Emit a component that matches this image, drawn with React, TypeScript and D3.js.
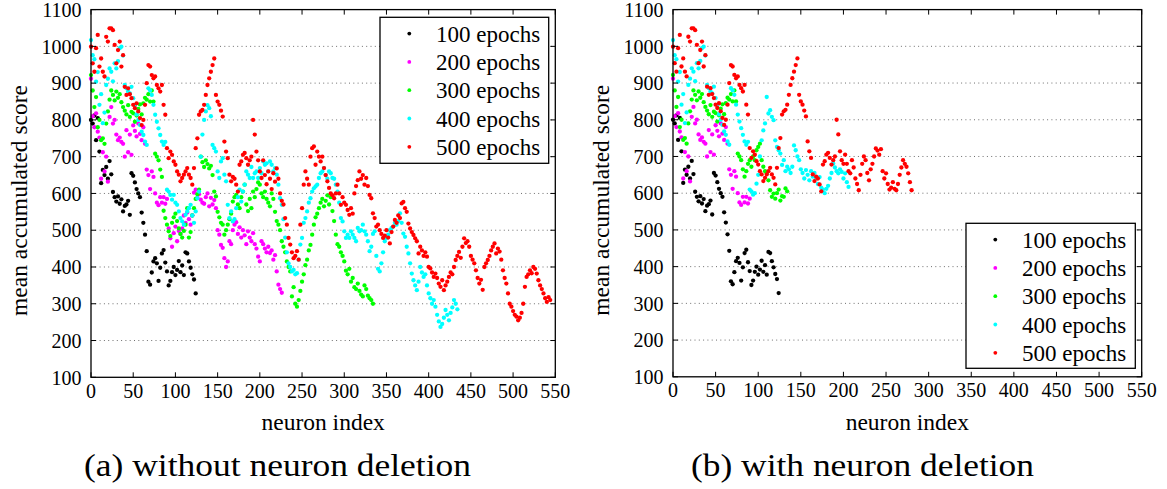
import React from "react";
import * as d3 from "d3";

// ---------- data (neuron index = 2 * position in array) ----------
const seriesNames = ["100 epochs", "200 epochs", "300 epochs", "400 epochs", "500 epochs"];
const seriesColors = ["#000000", "#ff00ff", "#00ff00", "#00ffff", "#ff0000"];
const xTickValues = [0, 50, 100, 150, 200, 250, 300, 350, 400, 450, 500, 550];
const yTickValues = [100, 200, 300, 400, 500, 600, 700, 800, 900, 1000, 1100];
const captions = ["(a) without neuron deletion", "(b) with neuron deletion"];

const black100 = [800,790,812,745,805,714,628,664,650,672,640,688,652,604,590,578,592,572,584,551,566,570,580,542,655,648,630,612,600,590,548,520,488,443,360,352,385,415,424,410,362,398,437,446,412,388,350,362,386,400,378,392,416,386,404,378,440,437,415,398,380,366,328];

const magenta200 = [912,810,780,818,768,752,640,712,660,700,
 632,808,835,790,800,760,745,752,740,735,
 700,772,712,760,705,785,770,755,790,762,
 745,780,735,665,650,612,660,645,600,575,
 568,590,575,590,572,585,505,478,455,492,
 510,470,498,490,505,540,520,548,530,515,
 540,602,610,588,598,583,575,572,590,600,
 565,588,570,582,560,500,488,460,452,424,
 400,415,470,462,500,515,522,490,508,480,
 500,486,462,497,480,470,492,462,450,428,
 415,470,462,450,440,455,438,445,420,432,
 388,352,340,330];

const green300 = [922,880,835,862,780,800,745,750,735,790,
 823,855,880,868,853,877,860,870,848,835,
 825,815,840,808,822,818,795,812,830,842,
 815,845,860,855,870,850,880,850,708,700,
 690,665,645,553,533,515,497,484,520,535,
 545,525,505,490,480,498,515,560,480,495,
 540,560,585,598,610,700,685,672,690,680,
 668,675,650,605,592,550,535,520,515,488,
 500,515,530,545,578,590,596,570,560,590,
 605,624,570,552,585,560,605,590,612,630,
 624,600,590,605,585,575,565,600,585,550,
 525,515,500,470,455,440,415,400,388,320,
 345,300,292,310,335,360,380,405,420,445,
 460,488,515,535,545,560,575,585,565,580,
 595,570,590,552,525,488,462,455,440,430,
 415,390,380,395,360,370,345,340,355,335,
 325,320,350,340,322,315,310,300];

const cyan400 = [1017,976,965,904,930,841,870,791,820,895,
 912,940,931,905,954,940,960,995,999,975,
 895,886,877,872,890,859,840,815,800,786,
 768,759,741,732,886,880,868,841,814,795,
 777,759,741,732,740,610,605,596,583,596,
 575,569,551,533,524,515,542,551,560,569,
 540,520,551,587,605,700,760,800,823,840,
 832,810,732,723,714,660,642,687,696,651,
 633,569,533,551,524,530,560,590,610,578,
 605,624,660,651,642,672,642,655,660,642,
 669,655,687,678,682,660,687,678,660,669,
 651,624,587,569,530,480,440,410,400,388,
 392,380,383,420,461,479,520,533,551,575,
 587,605,614,619,624,642,655,660,669,650,
 640,660,655,642,640,624,605,575,533,524,
 497,479,488,479,497,488,479,470,506,497,
 500,515,497,488,470,443,455,490,497,430,
 395,388,410,440,470,479,488,500,506,510,
 520,515,525,546,520,491,482,455,437,410,
 382,364,350,337,360,400,385,373,380,350,
 328,315,300,310,292,270,252,237,245,262,
 283,270,255,275,290,310,300,285];

const red500 = [999,954,931,995,1031,945,967,931,918,1026,
 1013,1049,1049,1044,1004,954,990,1013,945,976,
 890,868,886,870,859,841,832,845,823,805,
 786,800,841,900,949,945,922,913,918,895,
 886,877,895,841,814,723,696,714,705,687,
 678,660,651,633,642,651,660,669,651,642,
 624,669,723,750,814,823,827,841,868,895,
 913,931,949,967,868,850,841,825,809,741,
 714,696,651,633,645,640,624,605,678,687,
 705,710,696,678,690,700,800,760,714,690,
 660,642,690,650,625,660,640,612,655,632,
 668,640,600,580,570,533,515,479,461,440,
 424,430,443,420,515,560,624,660,640,624,
 700,723,728,678,714,700,687,700,669,650,
 633,615,600,595,587,600,624,600,569,590,
 575,569,555,542,560,545,600,620,636,660,
 640,650,624,642,620,596,587,546,533,510,
 515,500,490,479,485,500,480,464,495,510,
 528,520,540,533,573,577,560,550,518,505,
 495,487,478,470,437,455,445,430,440,428,
 400,396,385,373,382,370,355,346,364,337,
 350,360,373,385,380,400,419,430,441,425,
 455,478,465,470,455,430,420,410,391,370,
 355,365,338,400,410,419,430,445,455,464,
 437,450,442,420,391,370,355,328,300,292,
 280,270,265,255,262,275,300,346,373,380,
 391,383,400,395,382,364,350,340,328,315,
 305,318,310];

// with neuron deletion: shared beginnings, then own values
const green300DelTail = [645,660,680,690,672,700,690,717,726,735,690,672,660,654,635,608,590,599,585,600,610,580,592,590,613,605]; // from index 84
const cyan400DelTail = [600,626,650,700,744,771,790,862,817,826,808,799,744,726,717,708,677,690,660,672,665,655,672,730,717,700,690,665,655,640,663,650,635,660,645,655,640,625,644,615,610,600,612,620,640,655,681,670,660,654,665,658,640,654,630,617]; // from index 96
const red500DelTail = [714,690,680,705,680,660,654,690,670,640,625,608,650,680,700,690,655,635,665,680,700,722,716,705,720,660,640,654,625,610,615,630,612,608,625,650,670,690,680,672,654,630,608]; // from index 196

const leftSeries = [black100, magenta200, green300, cyan400, red500];
const rightSeries = [
  black100,
  magenta200.slice(0, 46),
  green300.slice(0, 42).concat(green300DelTail),
  cyan400.slice(0, 48).concat(cyan400DelTail),
  red500.slice(0, 98).concat(red500DelTail),
];

const FONT = "'Liberation Serif', 'Times New Roman', serif";

type PanelProps = {
  x0: number; x1: number; yT: number; yB: number;
  series: number[][];
  legend: { x: number; y: number; w: number; h: number };
  yLabelX: number;
};

function Panel({ x0, x1, yT, yB, series, legend, yLabelX }: PanelProps) {
  const x = d3.scaleLinear().domain([0, 550]).range([x0, x1]);
  const y = d3.scaleLinear().domain([100, 1100]).range([yB, yT]);
  const tickLen = 5;
  return (
    <g>
      {yTickValues.filter((t) => t > 100 && t < 1100).map((t) => (
        <line key={"g" + t} x1={x0} x2={x1} y1={y(t)} y2={y(t)} stroke="#6e6e6e" strokeWidth={1} strokeDasharray="1,3.3" />
      ))}
      {series.map((vals, si) => (
        <g key={"s" + si} fill={seriesColors[si]}>
          {vals.map((v, i) => (
            <circle key={i} cx={x(i * 2)} cy={y(v)} r={2.15} />
          ))}
        </g>
      ))}
      <rect x={x0} y={yT} width={x1 - x0} height={yB - yT} fill="none" stroke="#000" strokeWidth={1.3} />
      {xTickValues.map((t) => (
        <g key={"xt" + t}>
          <line x1={x(t)} x2={x(t)} y1={yB} y2={yB - tickLen} stroke="#000" strokeWidth={1} />
          <line x1={x(t)} x2={x(t)} y1={yT} y2={yT + tickLen} stroke="#000" strokeWidth={1} />
          <text x={x(t)} y={yB + 20.5} textAnchor="middle" fontFamily={FONT} fontSize={20}>{t}</text>
        </g>
      ))}
      {yTickValues.map((t) => (
        <g key={"yt" + t}>
          <line x1={x0} x2={x0 + tickLen} y1={y(t)} y2={y(t)} stroke="#000" strokeWidth={1} />
          <line x1={x1} x2={x1 - tickLen} y1={y(t)} y2={y(t)} stroke="#000" strokeWidth={1} />
          <text x={x0 - 9.5} y={y(t) + 7.2} textAnchor="end" fontFamily={FONT} fontSize={20}>{t}</text>
        </g>
      ))}
      <text x={(x0 + x1) / 2} y={yB + 53} textAnchor="middle" fontFamily={FONT} fontSize={23.5}>neuron index</text>
      <text transform={`translate(${yLabelX},${(yT + yB) / 2 + 7}) rotate(-90)`} textAnchor="middle" fontFamily={FONT} fontSize={23.5}>mean accumulated score</text>
      <rect x={legend.x} y={legend.y} width={legend.w} height={legend.h} fill="#fff" stroke="#000" strokeWidth={1.3} />
      {seriesNames.map((n, i) => {
        const ry = legend.y + 16.3 + i * 28.3;
        return (
          <g key={"l" + i}>
            <circle cx={legend.x + 29.3} cy={ry} r={1.9} fill={seriesColors[i]} />
            <text x={legend.x + 56} y={ry + 8} fontFamily={FONT} fontSize={23}>{n}</text>
          </g>
        );
      })}
    </g>
  );
}

export default function App() {
  return (
    <svg width={1167} height={489} style={{ position: "absolute", left: 0, top: 0, background: "#fff" }}>
      <rect x={0} y={0} width={1167} height={489} fill="#fff" />
      <Panel x0={91} x1={555.3} yT={9.6} yB={377.3} series={leftSeries}
        legend={{ x: 380, y: 17.3, w: 168.7, h: 146 }} yLabelX={27} />
      <Panel x0={673} x1={1141.7} yT={9.6} yB={376.8} series={rightSeries}
        legend={{ x: 966, y: 223.3, w: 169.3, h: 145 }} yLabelX={609} />
      <text x={84} y={476} fontFamily={FONT} fontSize={31} textLength={387} lengthAdjust="spacingAndGlyphs">{captions[0]}</text>
      <text x={691} y={476} fontFamily={FONT} fontSize={31} textLength={343} lengthAdjust="spacingAndGlyphs">{captions[1]}</text>
    </svg>
  );
}
